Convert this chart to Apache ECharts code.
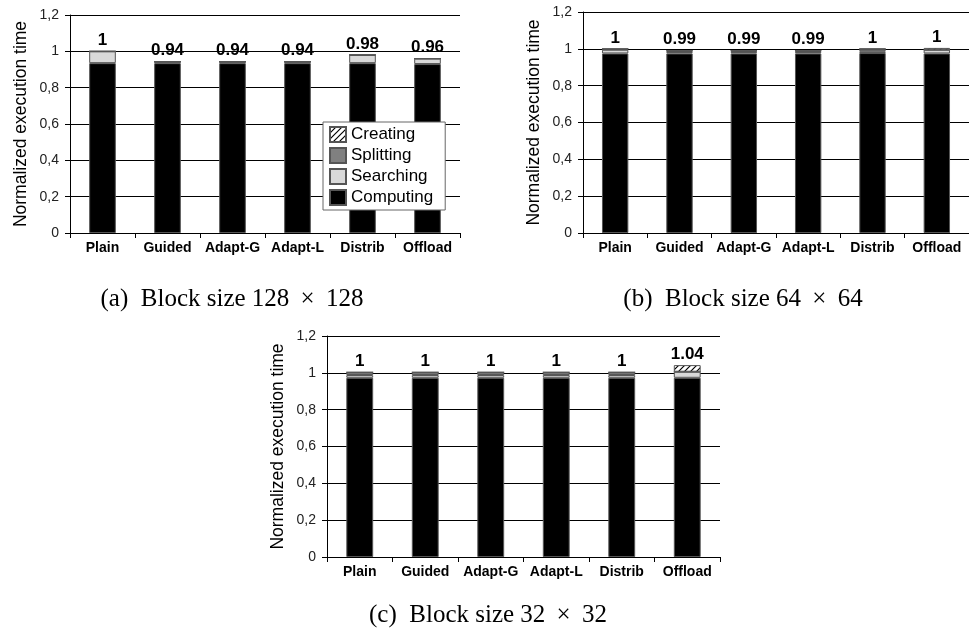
<!DOCTYPE html>
<html>
<head>
<meta charset="utf-8">
<script src="https://cdn.jsdelivr.net/npm/echarts@6/dist/echarts.min.js"></script>
<style>html,body{margin:0;padding:0;background:#fff}#c{width:969px;height:630px}</style>
</head>
<body>
<div id="c"></div>
<script>
const categories = ['Plain', 'Guided', 'Adapt-G', 'Adapt-L', 'Distrib', 'Offload'];
const yTickLabels = ['0', '0,2', '0,4', '0,6', '0,8', '1', '1,2'];

// (a) Block size 128 x 128
const computingA = [0.935, 0.935, 0.935, 0.935, 0.935, 0.93];
const searchingA = [0.065, 0.008, 0.008, 0.008, 0.045, 0.03];
const splittingA = [0, 0, 0, 0, 0, 0];
const creatingA  = [0, 0, 0, 0, 0, 0];
const totalsA    = ['1', '0.94', '0.94', '0.94', '0.98', '0.96'];

// (b) Block size 64 x 64
const computingB = [0.975, 0.975, 0.975, 0.975, 0.977, 0.975];
const searchingB = [0.02, 0.008, 0.008, 0.008, 0.01, 0.02];
const splittingB = [0.005, 0.007, 0.007, 0.007, 0.013, 0];
const creatingB  = [0, 0, 0, 0, 0, 0.01];
const totalsB    = ['1', '0.99', '0.99', '0.99', '1', '1'];

// (c) Block size 32 x 32
const computingC = [0.973, 0.973, 0.973, 0.973, 0.973, 0.973];
const searchingC = [0.015, 0.015, 0.015, 0.015, 0.015, 0.033];
const splittingC = [0.015, 0.015, 0.015, 0.015, 0.015, 0];
const creatingC  = [0, 0, 0, 0, 0, 0.036];
const totalsC    = ['1', '1', '1', '1', '1', '1.04'];

const captions = [
  '(a)  Block size 128 \u2009\u00d7\u2009 128',
  '(b)  Block size 64 \u2009\u00d7\u2009 64',
  '(c)  Block size 32 \u2009\u00d7\u2009 32'
];

function hatch() {
  const cv = document.createElement('canvas');
  cv.width = 6; cv.height = 6;
  const ctx = cv.getContext('2d');
  ctx.fillStyle = '#fff'; ctx.fillRect(0, 0, 6, 6);
  ctx.strokeStyle = '#000'; ctx.lineWidth = 1.2;
  ctx.beginPath();
  ctx.moveTo(0, 6); ctx.lineTo(6, 0);
  ctx.moveTo(-3, 3); ctx.lineTo(3, -3);
  ctx.moveTo(3, 9); ctx.lineTo(9, 3);
  ctx.stroke();
  return cv;
}
const hatchPattern = { image: hatch(), repeat: 'repeat' };

const FONT = '"Liberation Sans", Arial, sans-serif';
const colors = {
  Computing: '#000000',
  Searching: '#d9d9d9',
  Splitting: '#808080',
  Creating: hatchPattern
};

const grids = [
  { left: 70, top: 15, width: 390, height: 218 },
  { left: 583, top: 12, width: 394, height: 221 },
  { left: 327, top: 336, width: 393, height: 221 }
];

const chartData = [
  { Computing: computingA, Searching: searchingA, Splitting: splittingA, Creating: creatingA, totals: totalsA },
  { Computing: computingB, Searching: searchingB, Splitting: splittingB, Creating: creatingB, totals: totalsB },
  { Computing: computingC, Searching: searchingC, Splitting: splittingC, Creating: creatingC, totals: totalsC }
];

const xAxes = [], yAxes = [], series = [];
grids.forEach((g, i) => {
  xAxes.push({
    type: 'category', gridIndex: i, data: categories, boundaryGap: true,
    axisLine: { show: true, lineStyle: { color: '#000', width: 1 } },
    axisTick: { show: true, alignWithLabel: false, length: 5, lineStyle: { color: '#000' } },
    axisLabel: { color: '#000', fontFamily: FONT, fontWeight: 'bold', fontSize: 14, margin: 8, interval: 0 }
  });
  yAxes.push({
    type: 'value', gridIndex: i, min: 0, max: 1.2, interval: 0.2,
    name: 'Normalized execution time', nameLocation: 'middle', nameGap: 40,
    nameTextStyle: { fontFamily: FONT, fontSize: 17.5, color: '#000' },
    axisLine: { show: true, lineStyle: { color: '#000', width: 1 } },
    axisTick: { show: true, length: 5, lineStyle: { color: '#000' } },
    splitLine: { show: true, lineStyle: { color: '#000', width: 1 } },
    axisLabel: {
      color: '#222', fontFamily: FONT, fontSize: 14, margin: 11,
      formatter: v => yTickLabels[Math.round(v / 0.2)]
    }
  });
  const d = chartData[i];
  ['Computing', 'Searching', 'Splitting', 'Creating'].forEach(name => {
    const s = {
      name: name, type: 'bar', stack: 'total' + i,
      xAxisIndex: i, yAxisIndex: i,
      data: d[name], barWidth: '41%',
      itemStyle: { color: colors[name], borderColor: '#555', borderWidth: 1 },
      emphasis: { disabled: true },
      animation: false
    };
    if (name === 'Creating') {
      s.label = {
        show: true, position: 'top', distance: 2,
        fontFamily: FONT, fontWeight: 'bold', fontSize: 17, color: '#000',
        formatter: p => d.totals[p.dataIndex]
      };
    }
    series.push(s);
  });
});

const positions = [[232, 299], [743, 299], [488, 615]];
const chart = echarts.init(document.getElementById('c'), null, { renderer: 'canvas' });
chart.setOption({
  animation: false,
  grid: grids,
  xAxis: xAxes,
  yAxis: yAxes,
  series: series,
  legend: {
    data: ['Creating', 'Splitting', 'Searching', 'Computing'],
    orient: 'vertical', left: 323, top: 122,
    itemWidth: 16, itemHeight: 15, itemGap: 4,
    icon: 'rect',
    backgroundColor: '#fff', borderColor: '#666', borderWidth: 1,
    padding: [4, 12, 4, 6],
    textStyle: { fontFamily: FONT, fontSize: 17, color: '#000' },
    selectedMode: false
  },
  graphic: captions.map((t, i) => ({
    type: 'text', x: positions[i][0], y: positions[i][1],
    style: { text: t, font: '25px "Liberation Serif", "Times New Roman", serif', fill: '#000', textAlign: 'center', textVerticalAlign: 'middle' }
  }))
});
</script>
</body>
</html>
